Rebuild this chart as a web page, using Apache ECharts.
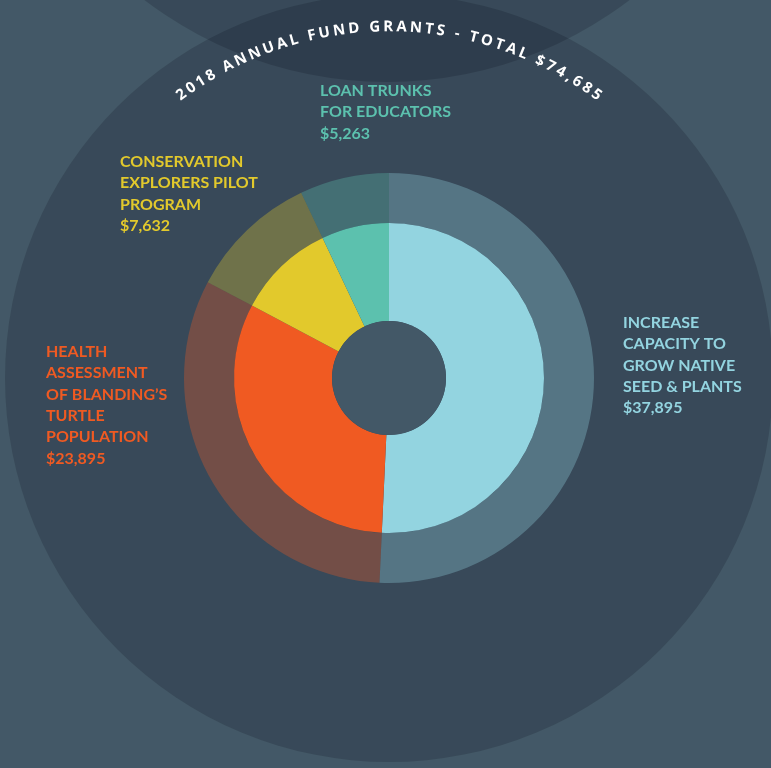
<!DOCTYPE html>
<html><head><meta charset="utf-8">
<script src="https://cdn.jsdelivr.net/npm/echarts@6.0.0/dist/echarts.min.js"></script>
<style>html,body{margin:0;padding:0;background:#435867;}#c{width:771px;height:768px;}</style>
</head><body><div id="c"></div>
<script>
const titleText = '2018 ANNUAL FUND GRANTS - TOTAL $74,685';
const categories = [
  'INCREASE\nCAPACITY TO\nGROW NATIVE\nSEED & PLANTS',
  'HEALTH\nASSESSMENT\nOF BLANDING\u2019S\nTURTLE\nPOPULATION',
  'CONSERVATION\nEXPLORERS PILOT\nPROGRAM',
  'LOAN TRUNKS\nFOR EDUCATORS'
];
const values = [37895, 23895, 7632, 5263];
const colors = ['#93d4e0', '#f05a22', '#e2c92c', '#5cc1ae'];
const labelPos = [[623, 312], [46, 341], [120, 151], [320, 80]];

const CX = 389, CY = 378;
const chart = echarts.init(document.getElementById('c'));

// curved title
const titleFont = 'bold 15px "Open Sans"';
const ctx = document.createElement('canvas').getContext('2d');
ctx.font = titleFont;
const chars = titleText.split('');
const widths = chars.map(ch => ctx.measureText(ch).width);
const R = 351;
const spanArc = 444; // distance between first and last char centres along arc
let inner = 0;
for (let i = 0; i < widths.length; i++) inner += widths[i];
inner -= (widths[0] + widths[widths.length - 1]) / 2;
const spacing = (spanArc - inner) / (chars.length - 1);
let s = -spanArc / 2;
const titleEls = [];
chars.forEach((ch, i) => {
  if (i > 0) s += widths[i - 1] / 2 + spacing + widths[i] / 2;
  const phi = s / R;
  titleEls.push({
    type: 'text', z: 50,
    x: CX + R * Math.sin(phi), y: CY - R * Math.cos(phi),
    rotation: -phi,
    style: { text: ch, fill: '#ffffff', font: titleFont, align: 'center', verticalAlign: 'middle' },
    silent: true
  });
});

const data = values.map((v, i) => ({
  name: categories[i], value: v,
  itemStyle: { color: colors[i] },
  label: { color: colors[i] }
}));
const ringData = values.map((v, i) => ({
  name: categories[i], value: v,
  itemStyle: { color: colors[i], opacity: 0.32 }
}));

chart.setOption({
  backgroundColor: '#435867',
  animation: false,
  graphic: {
    elements: [
      { type: 'circle', z: -10, silent: true, shape: { cx: CX, cy: CY, r: 384 }, style: { fill: 'rgba(0,0,20,0.165)' } },
      { type: 'circle', z: -9, silent: true, shape: { cx: 387, cy: -318, r: 400 }, style: { fill: 'rgba(0,0,20,0.165)' } },
      { type: 'circle', z: 20, silent: true, shape: { cx: CX, cy: CY, r: 57 }, style: { fill: '#435867' } }
    ].concat(titleEls)
  },
  series: [
    {
      type: 'pie', center: [CX, CY], radius: [155, 205], startAngle: 90, clockwise: true,
      silent: true, label: { show: false }, labelLine: { show: false },
      data: ringData
    },
    {
      type: 'pie', center: [CX, CY], radius: [57, 155], startAngle: 90, clockwise: true,
      silent: true, avoidLabelOverlap: false,
      label: {
        show: true, position: 'outside',
        fontFamily: 'Lato', fontWeight: 'bold', fontSize: 16, lineHeight: 21.4,
        formatter: p => p.name + '\n$' + p.value.toLocaleString('en-US')
      },
      labelLine: { show: false },
      labelLayout: p => {
        const q = labelPos[p.dataIndex];
        return { x: q[0], y: q[1], align: 'left', verticalAlign: 'top' };
      },
      data: data
    }
  ]
});
</script></body></html>
